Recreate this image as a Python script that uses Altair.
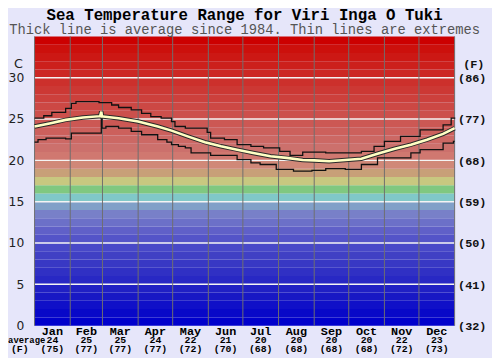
import altair as alt
import pandas as pd

# ---------------- data ----------------
months = ["Jan", "Feb", "Mar", "Apr", "May", "Jun", "Jul", "Aug", "Sep", "Oct", "Nov", "Dec"]
avg_c = ["24", "25", "25", "24", "22", "21", "20", "20", "20", "20", "22", "23"]
avg_f = ["(75)", "(77)", "(77)", "(77)", "(72)", "(70)", "(68)", "(68)", "(68)", "(68)", "(72)", "(73)"]
month_start = [0, 31, 59, 90, 120, 151, 181, 212, 243, 273, 304, 334, 365]

max_day = [0, 8, 15, 27, 32, 36, 56, 67, 73, 84, 93, 101, 110, 119, 122, 131, 150, 153, 165,
           176, 188, 199, 213, 222, 233, 253, 284, 295, 304, 318, 335, 355, 362, 365]
max_temp = [25.1, 25.4, 25.8, 26.3, 26.9, 27.1, 27.0, 26.7, 26.4, 26.1, 25.7, 25.3, 25.1, 24.7,
            24.1, 23.9, 23.4, 22.7, 22.5, 21.9, 21.7, 21.5, 21.1, 20.6, 21.0, 20.9, 21.1, 21.7,
            22.3, 22.9, 23.7, 24.3, 25.1, 25.2]

min_day = [0, 3, 10, 27, 32, 58, 58.6, 62, 73, 84, 93, 107, 115, 119, 125, 131, 136, 153, 176,
           188, 196, 210, 225, 241, 253, 270, 284, 298, 327, 335, 355, 364, 365]
min_temp = [22.2, 22.5, 22.7, 22.6, 23.3, 25.2, 23.9, 24.1, 23.9, 23.5, 23.1, 22.5, 22.2, 21.9,
            21.7, 21.5, 20.9, 20.6, 20.1, 19.7, 19.5, 18.9, 18.7, 18.8, 19.0, 18.9, 19.5, 20.3,
            20.9, 21.3, 22.1, 22.3, 22.3]

avg_day = [0, 14, 27, 42, 57, 58, 58.6, 59.5, 73, 90, 107, 119, 133, 148, 162, 176, 190, 205,
           219, 233, 243, 256, 270, 284, 298, 313, 327, 341, 355, 365]
avg_temp = [24.1, 24.5, 24.9, 25.2, 25.35, 25.9, 25.3, 25.3, 25.1, 24.7, 24.1, 23.6, 22.9, 22.2,
            21.7, 21.3, 20.9, 20.5, 20.3, 20.05, 20.0, 19.9, 20.05, 20.2, 20.8, 21.4, 21.9, 22.5,
            23.2, 23.9]

band_lo = list(range(35))
band_colors = [
    "#0000cc", "#0808c8", "#1010c8", "#1818c4", "#2020c4",
    "#2828c4", "#3030c4", "#3838c4", "#4040c4", "#4848c8",
    "#5454c8", "#6060c8", "#6c70c8", "#7880c8", "#80a0c8",
    "#80c8c8", "#80c880", "#c8c880", "#c8a078", "#d08878",
    "#d07870", "#cc706c", "#cc6864", "#cc605c", "#cc5854",
    "#cc504c", "#cc4844", "#cc403c", "#cc3834", "#cc302c",
    "#cc2824", "#cc201c", "#cc1814", "#cc100c", "#cc0000",
]
grid_c = [5, 10, 15, 20, 25, 30]
tick_c = [0, 5, 10, 15, 20, 25, 30]
row_labels = ["average", "(F)"]

# ---------------- tables ----------------
band_df = pd.DataFrame({"lo": band_lo, "hi": [v + 1 for v in band_lo],
                        "x0": 0, "x1": 365, "color": band_colors})
grid_df = pd.DataFrame({"t": grid_c})
vgrid_df = pd.DataFrame({"d": month_start})
mid = [(month_start[i] + month_start[i + 1]) / 2 for i in range(12)]
mon_df = pd.DataFrame({"mid": mid, "name": months, "c": avg_c, "f": avg_f})
max_df = pd.DataFrame({"day": max_day, "t": max_temp})
min_df = pd.DataFrame({"day": min_day, "t": min_temp})
avg_df = pd.DataFrame({"day": avg_day, "t": avg_temp})
avg_lbl_df = pd.DataFrame({"label": [row_labels[0]]})
f_lbl_df = pd.DataFrame({"label": [row_labels[1]]})

W, H = 427, 294
xs = alt.Scale(domain=[0, 365], nice=False, zero=False)
ys = alt.Scale(domain=[0, 35], nice=False, zero=False)
MONO = "Liberation Mono"

bands = alt.Chart(band_df).mark_rect().encode(
    x=alt.X("x0:Q", scale=xs, axis=None), x2="x1:Q",
    y=alt.Y("lo:Q", scale=ys, axis=alt.Axis(
        orient="left", values=tick_c, ticks=False, domain=False, grid=False,
        labelFont="DejaVu Sans", labelFontSize=12.5, labelColor="#222", labelPadding=11,
        title="C", titleAngle=0, titleFont="DejaVu Sans", titleFontSize=13,
        titleFontWeight="normal", titleColor="#222", titleX=-17, titleY=28,
        titleAlign="center", titleBaseline="middle")),
    y2="hi:Q",
    color=alt.Color("color:N", scale=None),
)

hgrid = alt.Chart(grid_df).mark_rule(color="#f4f4f4", strokeWidth=1.5).encode(
    y=alt.Y("t:Q", scale=ys, axis=alt.Axis(
        orient="right", values=tick_c, ticks=False, domain=False, grid=False,
        labelExpr="'(' + round(datum.value * 9 / 5 + 32) + ')'",
        labelFont=MONO, labelFontSize=12, labelFontWeight="bold", labelColor="#111",
        labelPadding=3,
        title="(F)", titleAngle=0, titleFont=MONO, titleFontSize=12,
        titleFontWeight="bold", titleColor="#111", titleX=19, titleY=28,
        titleAlign="center", titleBaseline="middle")),
)

vgrid = alt.Chart(vgrid_df).mark_rule(color="#6e6e6e", strokeWidth=1).encode(
    x=alt.X("d:Q", scale=xs, axis=None))

yline = alt.Y("t:Q", scale=ys, axis=None)
xline = alt.X("day:Q", scale=xs, axis=None)

max_line = alt.Chart(max_df).mark_line(interpolate="step-after", color="#111", strokeWidth=1.3).encode(
    x=xline, y=yline)
min_line = alt.Chart(min_df).mark_line(interpolate="step-after", color="#111", strokeWidth=1.3).encode(
    x=xline, y=yline)
avg_out = alt.Chart(avg_df).mark_line(color="#2a2a2a", strokeWidth=4.6).encode(x=xline, y=yline)
avg_in = alt.Chart(avg_df).mark_line(color="#ffffc4", strokeWidth=2.6).encode(x=xline, y=yline)

xm = alt.X("mid:Q", scale=xs, axis=None)
mon_txt = alt.Chart(mon_df).mark_text(font=MONO, fontSize=12, fontWeight="bold", color="#000",
                                      baseline="middle").encode(
    x=xm, y=alt.value(H + 5.5), text="name:N")
c_txt = alt.Chart(mon_df).mark_text(font=MONO, fontSize=10, fontWeight="bold", color="#000",
                                    baseline="middle").encode(
    x=xm, y=alt.value(H + 15), text="c:N")
f_txt = alt.Chart(mon_df).mark_text(font=MONO, fontSize=10, fontWeight="bold", color="#000",
                                    baseline="middle").encode(
    x=xm, y=alt.value(H + 24), text="f:N")
avg_lbl = alt.Chart(avg_lbl_df).mark_text(font=MONO, fontSize=9, fontWeight="bold", color="#000",
                                          baseline="middle", align="center").encode(
    x=alt.value(-8), y=alt.value(H + 15), text="label:N")
f_lbl = alt.Chart(f_lbl_df).mark_text(font=MONO, fontSize=10, fontWeight="bold", color="#000",
                                      baseline="middle", align="center").encode(
    x=alt.value(-15), y=alt.value(H + 24), text="label:N")

chart = alt.layer(
    bands, hgrid, vgrid, max_line, min_line, avg_out, avg_in,
    mon_txt, c_txt, f_txt, avg_lbl, f_lbl,
).resolve_axis(y="independent").resolve_scale(y="shared").properties(
    width=W, height=H,
    title=alt.Title(
        text="Sea Temperature Range for Viri Inga O Tuki",
        subtitle="Thick line is average since 1984. Thin lines are extremes",
        font=MONO, fontSize=16, fontWeight="bold", color="#000",
        subtitleFont=MONO, subtitleFontSize=14, subtitleColor="#555",
        anchor="middle", offset=-1, subtitlePadding=0,
    ),
    autosize="none",
    padding={"left": 27, "top": 26, "right": 38, "bottom": 30},
).configure(background="#e6e6fa").configure_view(strokeWidth=0)

chart.save("out.html", embed_options={"renderer": "svg", "actions": False})
